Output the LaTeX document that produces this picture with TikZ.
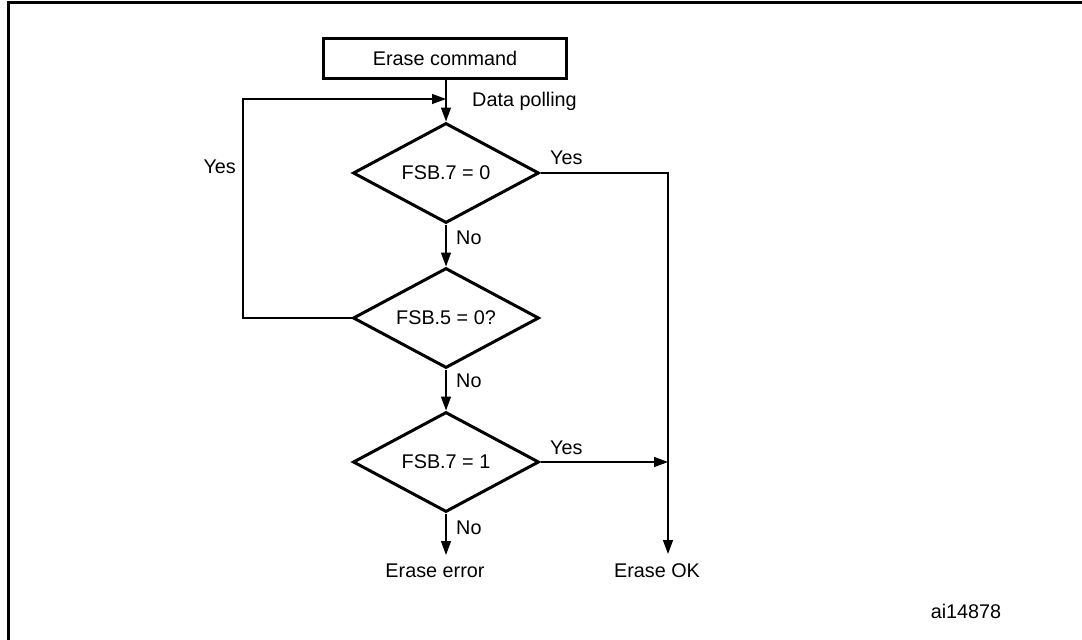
\documentclass[tikz,border=0pt]{standalone}
\usepackage{fontspec}
\setmainfont{Liberation Sans}
\usetikzlibrary{shapes.geometric,arrows.meta}
\begin{document}
\begin{tikzpicture}[x=1pt,y=-1pt,
  txt/.style={font=\fontsize{19.8}{23}\selectfont, inner sep=0pt},
  cmdbox/.style={draw, line width=3pt, minimum width=243pt, minimum height=40pt, inner sep=0pt, font=\fontsize{19.8}{23}\selectfont},
  dec/.style={draw, diamond, line width=3pt, aspect=1.8, inner sep=0pt, minimum width=186pt, minimum height=100pt, font=\fontsize{19.8}{23}\selectfont},
  conn/.style={line width=1.4pt},
  arr/.style={conn, -{Triangle[length=14pt,width=10pt]}},
  lbl/.style={txt, anchor=west}]
\useasboundingbox (0,0) rectangle (1082,640);
\draw[line width=3pt] (8,640) -- (8,2) -- (1082,2);
\node[cmdbox] (cmd) at (445,58) {Erase command};
\node[dec] (d1) at (446,173) {FSB.7 = 0};
\node[dec] (d2) at (446,318) {FSB.5 = 0?};
\node[dec] (d3) at (446,462) {FSB.7 = 1};
\coordinate (join) at (446,99);
\coordinate (okjoin) at (668,462);
\coordinate (okend) at (668,554);
\coordinate (errend) at (446,555);
\node[txt] (err) at (435,571) {Erase error};
\node[txt] (ok) at (657,571) {Erase OK};
\node[txt] (ai) at (966,611) {ai14878};
\draw[arr] (cmd.south -| d1.north) -- (d1.north);
\node[lbl] (dp) at (472,101) {Data polling};
\draw[arr] (d2.west) -- (243,318) -- (243,99) -- (join);
\node[txt, anchor=east] (y2) at (236,167) {Yes};
\draw[arr] (d1.south) -- (d2.north);
\node[lbl] (n1) at (456,238) {No};
\draw[arr] (d2.south) -- (d3.north);
\node[lbl] (n2) at (456,381) {No};
\draw[arr] (d1.east) -- (668,173) -- (okend);
\node[lbl] (y1) at (550,158) {Yes};
\draw[arr] (d3.east) -- (okjoin);
\node[lbl] (y3) at (550,448) {Yes};
\draw[arr] (d3.south) -- (errend);
\node[lbl] (n3) at (456,528) {No};
\end{tikzpicture}
\end{document}
